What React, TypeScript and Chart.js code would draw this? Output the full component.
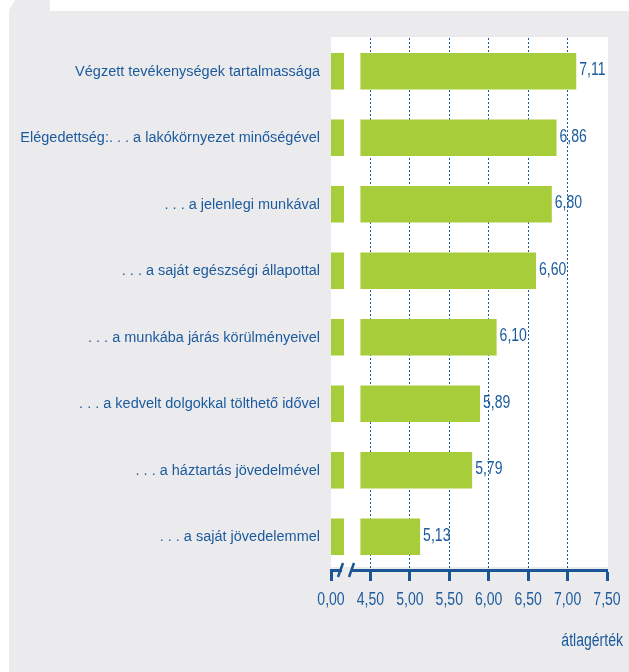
import React, { useEffect, useRef } from "react";
import { Chart, registerables } from "chart.js";

Chart.register(...registerables);

const categories = [
  "Végzett tevékenységek tartalmassága",
  "Elégedettség:. . . a lakókörnyezet minőségével",
  ". . . a jelenlegi munkával",
  ". . . a saját egészségi állapottal",
  ". . . a munkába járás körülményeivel",
  ". . . a kedvelt dolgokkal tölthető idővel",
  ". . . a háztartás jövedelmével",
  ". . . a saját jövedelemmel",
];
const values = [7.11, 6.86, 6.8, 6.6, 6.1, 5.89, 5.79, 5.13];
const tickLabels = ["0,00", "4,50", "5,00", "5,50", "6,00", "6,50", "7,00", "7,50"];
const axisTitle = "átlagérték";

// Broken axis: the "0,00" tick sits at AXIS_START; the short stub and the
// main bar are separated by the break between STUB_END and BAR_START.
const AXIS_START = 4.0;
const AXIS_END = 7.5;
const TICK_STEP = 0.5;
const STUB_END = 4.165;
const BAR_START = 4.373;

const BLUE = "#1b5a9c";
const AXIS_BLUE = "#1b5596";
const GREEN = "#a8cd3a";
const PANEL = "#ebebee";
const FONT = "'Liberation Sans', Arial, sans-serif";
const NUM_SIZE = 18;
const NUM_SCALE_X = 0.78;
const CAT_SIZE = 15.5;
const CAT_SCALE_X = 0.935;

const fmt = (v: number) => v.toFixed(2).replace(".", ",");

function condensedText(
  ctx: CanvasRenderingContext2D,
  text: string,
  x: number,
  y: number,
  align: CanvasTextAlign,
  size: number,
  sx: number
) {
  ctx.save();
  ctx.translate(x, y);
  ctx.scale(sx, 1);
  ctx.font = `${size}px ${FONT}`;
  ctx.fillStyle = BLUE;
  ctx.textAlign = align;
  ctx.textBaseline = "middle";
  ctx.fillText(text, 0, 0);
  ctx.restore();
}

const decor = {
  id: "decor",
  beforeDraw(chart: any) {
    const { ctx, chartArea: a, width, height } = chart;
    ctx.save();
    ctx.fillStyle = "#ffffff";
    ctx.fillRect(0, 0, width, height);
    ctx.fillStyle = PANEL;
    ctx.beginPath();
    ctx.moveTo(9, height);
    ctx.lineTo(9, 10);
    ctx.lineTo(15, 0);
    ctx.lineTo(50, 0);
    ctx.lineTo(50, 11);
    ctx.lineTo(width, 11);
    ctx.lineTo(width, height);
    ctx.closePath();
    ctx.fill();
    ctx.fillStyle = "#ffffff";
    ctx.fillRect(a.left, a.top - 1, a.right - a.left + 1, a.bottom - a.top - 2);
    ctx.restore();
  },
  afterDraw(chart: any) {
    const { ctx, chartArea: a } = chart;
    const y = a.bottom;
    const x0 = a.left;
    ctx.save();
    // axis break
    ctx.fillStyle = PANEL;
    ctx.fillRect(x0 + 11, y - 2.5, 9, 5);
    ctx.strokeStyle = AXIS_BLUE;
    ctx.lineWidth = 2.5;
    ctx.beginPath();
    ctx.moveTo(x0 + 7, y + 7);
    ctx.lineTo(x0 + 12, y - 7);
    ctx.moveTo(x0 + 18, y + 7);
    ctx.lineTo(x0 + 23, y - 7);
    ctx.stroke();
    ctx.restore();
    // category labels
    const ys = chart.scales.y;
    categories.forEach((c, i) => {
      condensedText(ctx, c, a.left - 11, ys.getPixelForValue(i), "right", CAT_SIZE, CAT_SCALE_X);
    });
    // tick labels
    const xs = chart.scales.x;
    xs.ticks.forEach((t: any, i: number) => {
      condensedText(ctx, tickLabels[i], xs.getPixelForValue(t.value), a.bottom + 30, "center", NUM_SIZE, NUM_SCALE_X);
    });
    // value labels
    const meta = chart.getDatasetMeta(1);
    meta.data.forEach((bar: any, i: number) => {
      condensedText(ctx, fmt(values[i]), bar.x + 3, bar.y - 1, "left", NUM_SIZE, NUM_SCALE_X);
    });
    // axis title
    condensedText(ctx, axisTitle, chart.width - 6, 641, "right", NUM_SIZE, NUM_SCALE_X);
  },
};

export default function App() {
  const ref = useRef<HTMLCanvasElement | null>(null);
  useEffect(() => {
    if (!ref.current) return;
    const lastTick = tickLabels.length - 1;
    const chart = new Chart(ref.current, {
      type: "bar",
      data: {
        labels: categories,
        datasets: [
          {
            data: categories.map(() => [AXIS_START, STUB_END]) as any,
            backgroundColor: GREEN,
            grouped: false,
            barPercentage: 1,
            categoryPercentage: 0.55,
          } as any,
          {
            data: values.map((v) => [BAR_START, v]) as any,
            backgroundColor: GREEN,
            grouped: false,
            barPercentage: 1,
            categoryPercentage: 0.55,
          } as any,
        ],
      },
      options: {
        indexAxis: "y",
        responsive: false,
        animation: false,
        devicePixelRatio: 1,
        layout: { padding: { top: 38, right: 22, bottom: 0, left: 0 } },
        plugins: { legend: { display: false }, tooltip: { enabled: false } },
        scales: {
          x: {
            type: "linear",
            position: "bottom",
            min: AXIS_START,
            max: AXIS_END,
            afterFit: (s: any) => {
              s.height = 102;
            },
            ticks: {
              display: false,
              stepSize: TICK_STEP,
              autoSkip: false,
              maxRotation: 0,
            },
            grid: {
              display: true,
              drawOnChartArea: true,
              drawTicks: true,
              tickLength: 11,
              tickWidth: 3,
              tickColor: AXIS_BLUE,
              tickBorderDash: [],
              lineWidth: 1,
              color: (c: any) => (c.index === 0 || c.index === lastTick ? "rgba(0,0,0,0)" : BLUE),
            },
            border: { display: true, color: AXIS_BLUE, width: 3, dash: [2, 2] },
          } as any,
          y: {
            type: "category",
            afterFit: (s: any) => {
              s.width = 331;
            },
            ticks: { display: false, autoSkip: false },
            grid: { display: false, drawTicks: false },
            border: { display: false },
          } as any,
        },
      },
      plugins: [decor],
    });
    return () => chart.destroy();
  }, []);
  return (
    <div style={{ position: "absolute", left: 0, top: 0, width: 629, height: 672 }}>
      <canvas ref={ref} width={629} height={672} style={{ display: "block" }} />
    </div>
  );
}
